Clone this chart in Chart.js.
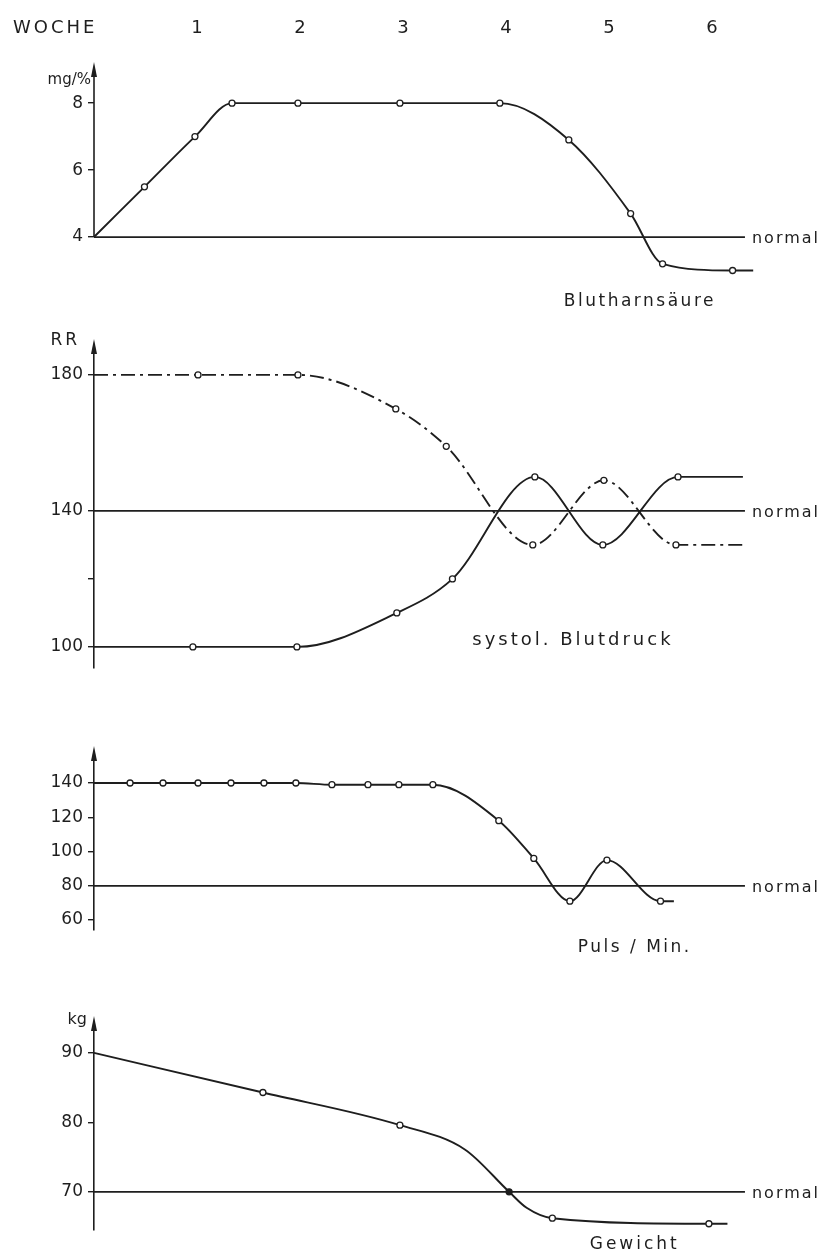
<!DOCTYPE html>
<html>
<head>
<meta charset="utf-8">
<script src="https://cdn.jsdelivr.net/npm/chart.js@4.4.1/dist/chart.umd.min.js"></script>
<style>
  html, body { margin: 0; padding: 0; background: #fff; }
  #page { position: relative; width: 829px; height: 1252px; overflow: hidden; }
  canvas { position: absolute; left: 0; }
</style>
</head>
<body>
<div id="page">
  <canvas id="harn" width="829" height="320" style="top:0"></canvas>
  <canvas id="rr" width="829" height="370" style="top:320px"></canvas>
  <canvas id="puls" width="829" height="300" style="top:690px"></canvas>
  <canvas id="gew" width="829" height="262" style="top:990px"></canvas>
</div>
<script>
// --- data (weeks on x); marks: 1 = open circle, 2 = filled dot, 0 = none ---
const weekTicks = [1, 2, 3, 4, 5, 6];
const normalEnd = 6.32;

// Blutharnsäure, mg/%
const harnWeeks = [0, 0.49, 0.98, 1.34, 1.98, 2.97, 3.94, 4.61, 5.21, 5.52, 6.2, 6.4];
const harnValues = [4, 5.5, 7, 8, 8, 8, 8, 6.9, 4.7, 3.2, 3.0, 3.0];
const harnMarks = [0, 1, 1, 1, 1, 1, 1, 1, 1, 1, 1, 0];
const harnTicks = [4, 6, 8];
const harnNormal = 4;

// systol. Blutdruck, RR
const rrDashWeeks = [0, 1.01, 1.98, 2.93, 3.42, 4.26, 4.95, 5.65, 6.3];
const rrDashValues = [180, 180, 180, 170, 159, 130, 149, 130, 130];
const rrDashMarks = [0, 1, 1, 1, 1, 1, 1, 1, 0];
const rrSolidWeeks = [0, 0.96, 1.97, 2.94, 3.48, 4.28, 4.94, 5.67, 6.3];
const rrSolidValues = [100, 100, 100, 110, 120, 150, 130, 150, 150];
const rrSolidMarks = [0, 1, 1, 1, 1, 1, 1, 1, 0];
const rrTicks = [100, 120, 140, 180];
const rrTickLabels = [100, 140, 180];
const rrNormal = 140;

// Puls/Min.
const pulsWeeks = [0, 0.35, 0.67, 1.01, 1.33, 1.65, 1.96, 2.31, 2.66, 2.96, 3.29, 3.93, 4.27, 4.62, 4.98, 5.5, 5.63];
const pulsValues = [140, 140, 140, 140, 140, 140, 140, 139, 139, 139, 139, 118, 96, 71, 95, 71, 71];
const pulsMarks = [0, 1, 1, 1, 1, 1, 1, 1, 1, 1, 1, 1, 1, 1, 1, 1, 0];
const pulsTicks = [60, 80, 100, 120, 140];
const pulsNormal = 80;

// Gewicht, kg
const gewWeeks = [0, 1.64, 2.97, 3.6, 4.03, 4.2, 4.45, 5.97, 6.15];
const gewValues = [90, 84.3, 79.6, 76.1, 70, 67.7, 66.2, 65.4, 65.4];
const gewMarks = [0, 1, 1, 0, 2, 0, 1, 1, 0];
const gewTicks = [70, 80, 90];
const gewNormal = 70;

// --- look ---
const ink = "#1e1e1e";
const family = "'DejaVu Sans', sans-serif";
const axisLeft = 94;

const pts = (xs, ys) => xs.map((x, i) => ({ x: x, y: ys[i] }));

const curve = (data, marks, dash) => ({
  data: data,
  borderColor: ink,
  borderWidth: 1.9,
  borderDash: dash || [],
  cubicInterpolationMode: "monotone",
  pointRadius: (ctx) => (marks[ctx.dataIndex] ? 3 : 0),
  pointBackgroundColor: (ctx) => (marks[ctx.dataIndex] === 2 ? ink : "#fff"),
  pointBorderColor: ink,
  pointBorderWidth: 1.3,
  clip: false,
});

const normalLine = (v) => ({
  data: [{ x: 0, y: v }, { x: normalEnd, y: v }],
  borderColor: ink,
  borderWidth: 1.7,
  pointRadius: 0,
  clip: false,
});

const yAxis = (min, max, ticks, labeled, showBorder) => ({
  min: min,
  max: max,
  afterFit: (s) => { s.width = axisLeft; },
  afterBuildTicks: (s) => { s.ticks = ticks.map((v) => ({ value: v })); },
  border: { display: showBorder, color: ink, width: 1.6 },
  grid: { display: true, drawOnChartArea: false, drawTicks: true, tickLength: 6, color: ink, lineWidth: 1.4 },
  ticks: {
    color: ink,
    padding: 5,
    font: { family: family, size: 17 },
    callback: (v) => (labeled.includes(v) ? String(v) : ""),
  },
});

const hiddenX = { type: "linear", min: 0, max: 6.5, display: false };

const drawText = (ctx, text, x, y, size, align, spacing) => {
  ctx.font = size + "px " + family;
  ctx.letterSpacing = (spacing || 0) + "px";
  ctx.textAlign = align || "left";
  ctx.textBaseline = "alphabetic";
  ctx.fillText(text, x, y);
};

const decorations = {
  id: "decorations",
  afterDatasetsDraw(chart, args, opts) {
    const { ctx, chartArea } = chart;
    const x = chart.scales.x;
    const y = chart.scales.y;
    ctx.save();
    ctx.fillStyle = ink;
    ctx.strokeStyle = ink;

    // axis line drawn here when it must stop above the bottom of the plot
    if (opts.axisFrom !== undefined) {
      ctx.lineWidth = 1.6;
      ctx.beginPath();
      ctx.moveTo(chartArea.left, y.getPixelForValue(opts.axisFrom));
      ctx.lineTo(chartArea.left, chartArea.top);
      ctx.stroke();
    }

    // arrow head on the value axis
    ctx.beginPath();
    ctx.moveTo(chartArea.left, chartArea.top - 6);
    ctx.lineTo(chartArea.left - 3, chartArea.top + 9);
    ctx.lineTo(chartArea.left + 3, chartArea.top + 9);
    ctx.closePath();
    ctx.fill();

    if (opts.unit) {
      const u = opts.unit;
      drawText(ctx, u.text, chartArea.left + u.dx, chartArea.top + u.dy, u.size, "right", u.spacing);
    }
    if (opts.normal !== undefined) {
      drawText(ctx, "normal", x.getPixelForValue(normalEnd) + 7, y.getPixelForValue(opts.normal) + 6, 16, "left", 2);
    }
    (opts.labels || []).forEach((l) => {
      drawText(ctx, l.text, x.getPixelForValue(l.x), y.getPixelForValue(l.y), l.size, "center", l.spacing);
    });
    if (opts.header) {
      drawText(ctx, opts.header, 13, 33, 18, "left", 3);
    }
    ctx.restore();
  },
};

const baseOptions = (yOpts, xOpts, padding, deco) => ({
  responsive: false,
  animation: false,
  layout: { padding: padding },
  scales: { x: xOpts, y: yOpts },
  plugins: { legend: { display: false }, tooltip: { enabled: false }, decorations: deco },
});

// Blutharnsäure, with the week axis on top
new Chart(document.getElementById("harn"), {
  type: "line",
  data: { datasets: [normalLine(harnNormal), curve(pts(harnWeeks, harnValues), harnMarks)] },
  options: baseOptions(
    yAxis(2.8, 9.05, harnTicks, harnTicks, false),
    {
      type: "linear", position: "top", min: 0, max: 6.5,
      afterFit: (s) => { s.height = 68; },
      afterBuildTicks: (s) => { s.ticks = weekTicks.map((v) => ({ value: v })); },
      border: { display: false },
      grid: { display: false },
      ticks: { color: ink, padding: 21, font: { family: family, size: 18 } },
    },
    { top: 0, bottom: 42.8, left: 0, right: 65.5 },
    {
      header: "WOCHE",
      axisFrom: harnNormal,
      unit: { text: "mg/%", dx: -3, dy: 16, size: 15, spacing: 0 },
      normal: harnNormal,
      labels: [{ text: "Blutharnsäure", x: 5.3, y: 1.94, size: 17, spacing: 2.5 }],
    }
  ),
  plugins: [decorations],
});

// systolischer Blutdruck
new Chart(document.getElementById("rr"), {
  type: "line",
  data: {
    datasets: [
      normalLine(rrNormal),
      curve(pts(rrDashWeeks, rrDashValues), rrDashMarks, [14, 5, 3, 5]),
      curve(pts(rrSolidWeeks, rrSolidValues), rrSolidMarks),
    ],
  },
  options: baseOptions(
    yAxis(93.8, 188.8, rrTicks, rrTickLabels, true),
    hiddenX,
    { top: 25, bottom: 22, left: 0, right: 65.5 },
    {
      unit: { text: "RR", dx: -14, dy: 0, size: 17, spacing: 3 },
      normal: rrNormal,
      labels: [{ text: "systol. Blutdruck", x: 4.65, y: 100.6, size: 18, spacing: 3 }],
    }
  ),
  plugins: [decorations],
});

// Puls
new Chart(document.getElementById("puls"), {
  type: "line",
  data: { datasets: [normalLine(pulsNormal), curve(pts(pulsWeeks, pulsValues), pulsMarks)] },
  options: baseOptions(
    yAxis(54.2, 158.1, pulsTicks, pulsTicks, true),
    hiddenX,
    { top: 62, bottom: 60, left: 0, right: 65.5 },
    {
      normal: pulsNormal,
      labels: [{ text: "Puls / Min.", x: 5.25, y: 41.3, size: 17, spacing: 2.5 }],
    }
  ),
  plugins: [decorations],
});

// Gewicht
new Chart(document.getElementById("gew"), {
  type: "line",
  data: { datasets: [normalLine(gewNormal), curve(pts(gewWeeks, gewValues), gewMarks)] },
  options: baseOptions(
    yAxis(64.5, 94.45, gewTicks, gewTicks, true),
    hiddenX,
    { top: 32, bottom: 22, left: 0, right: 65.5 },
    {
      unit: { text: "kg", dx: -7, dy: 2, size: 16, spacing: 0 },
      normal: gewNormal,
      labels: [{ text: "Gewicht", x: 5.25, y: 61.8, size: 17, spacing: 3 }],
    }
  ),
  plugins: [decorations],
});
</script>
</body>
</html>
